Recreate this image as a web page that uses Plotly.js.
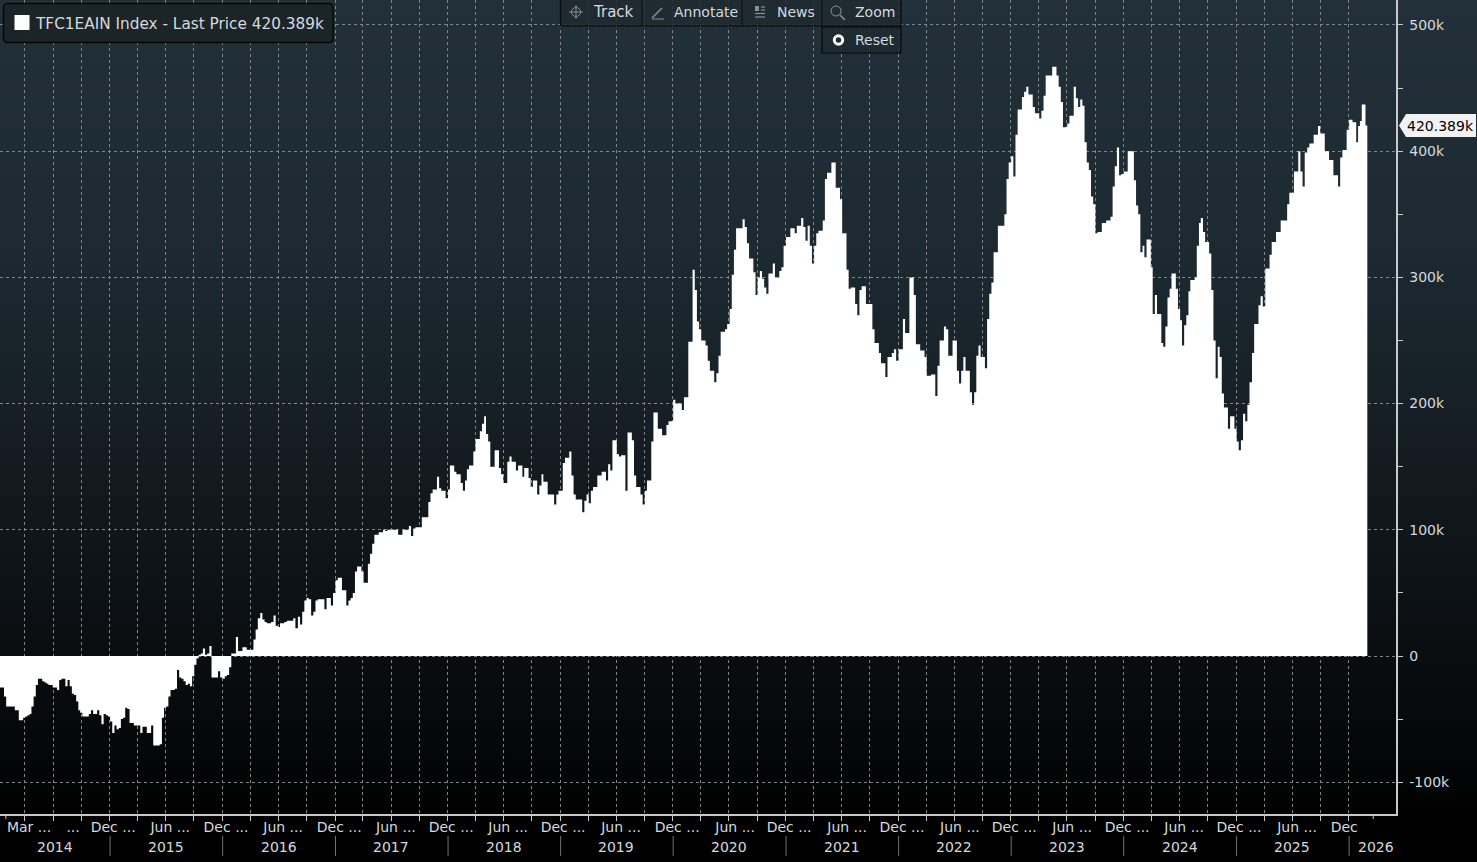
<!DOCTYPE html>
<html><head><meta charset="utf-8">
<script src="https://cdn.plot.ly/plotly-3.0.1.min.js"></script>
<style>
html,body{margin:0;padding:0;width:1477px;height:862px;overflow:hidden;
background:linear-gradient(180deg,#223039 0%,#1c2931 30%,#151e24 50%,#0e1418 65%,#090c0f 78%,#020303 92%,#000 95%);}
#chart{width:1477px;height:862px;}
</style></head><body><div id="chart"></div>
<script>
// Weekly closes, in thousands, one list per calendar year
const values2014=[-25,-25,-32,-40,-40,-40,-40,-43,-43,-51,-51,-49,-48,-47,-46,-40,-32,-23,-18,-18,-20,-21,-22,-23,-23,-25,-25,-27,-19,-18,-18,-24,-19,-24,-30,-31,-36,-43,-45,-48,-48,-48,-46,-43,-46,-46,-43,-47,-54,-46,-47,-48];
const values2015=[-52,-61,-55,-58,-57,-50,-49,-41,-42,-53,-53,-55,-55,-55,-61,-56,-56,-61,-61,-55,-71,-71,-71,-70,-49,-41,-40,-32,-27,-27,-26,-11,-17,-18,-20,-23,-22,-24,-16,-7,-2,1,2,6,1,2,8,-17,-17,-17,-12,-17];
const values2016=[-18,-16,-15,-9,2,2,15,4,4,7,7,5,5,5,13,21,30,34,29,27,26,26,27,32,24,23,26,26,27,28,28,28,30,22,31,25,35,44,46,45,32,35,44,45,45,45,37,46,46,40,50];
const values2017=[60,62,62,52,52,40,44,46,50,67,71,71,67,58,58,73,81,89,96,96,98,98,100,99,100,100,100,100,100,96,96,100,100,100,103,95,101,102,102,102,110,110,110,122,129,132,132,142,133,131,131,125];
const values2018=[132,151,151,146,144,144,137,131,139,148,151,151,162,172,172,178,184,190,176,170,150,150,163,163,149,144,137,137,154,158,154,154,147,151,151,142,149,149,141,134,139,139,128,135,144,138,138,128,128,128,120,128,131];
const values2019=[131,153,157,157,162,143,128,124,124,124,114,123,128,121,131,134,134,143,143,146,146,139,152,147,171,171,160,158,159,159,131,177,177,171,143,134,134,128,120,131,139,139,170,193,193,180,180,175,175,183,186,186];
const values2020=[203,200,200,200,195,205,205,249,249,306,290,265,259,250,250,246,234,226,226,217,224,238,257,257,259,263,275,302,322,339,339,339,346,340,327,315,315,304,286,300,305,299,292,287,303,303,311,300,300,305,308,325];
const values2021=[332,332,339,339,335,341,341,347,340,329,341,325,311,325,335,337,337,345,378,383,383,391,391,371,371,362,335,335,306,291,292,292,279,270,290,293,293,279,279,279,259,248,248,240,232,232,221,237,237,240,243,234];
const values2022=[243,243,267,256,256,300,300,286,247,247,242,242,237,222,222,223,223,206,230,250,250,261,259,238,238,250,250,226,216,226,237,226,226,209,199,209,238,246,237,237,228,267,287,296,320,320,341,341,341,350,378,391];
const values2023=[396,380,413,433,433,443,447,451,445,445,435,430,430,426,432,444,460,460,460,467,467,460,451,439,419,419,422,428,428,451,442,435,441,436,407,391,385,364,358,335,336,336,343,343,345,345,348,372,388,403,381,382];
const values2024=[384,384,400,400,400,377,357,350,320,325,316,330,330,308,271,286,271,271,248,245,261,284,291,303,303,291,275,266,246,262,270,289,298,298,300,325,343,347,336,328,328,319,290,250,220,245,237,208,197,197,180,190,190,180];
const values2025=[170,163,171,192,186,199,217,240,263,263,278,285,277,307,307,318,328,328,336,336,345,345,345,358,367,367,384,384,400,384,372,399,403,406,406,413,413,420,414,414,400,400,393,393,381,381,372,395,401,401,417];
const values2026=[425,425,423,423,407,420,424,437,437,420.389];
const yearSeries=[values2014,values2015,values2016,values2017,values2018,values2019,values2020,values2021,values2022,values2023,values2024,values2025,values2026];
const yearEdges=['2014-01-09','2015-01-01','2016-01-01','2017-01-01','2018-01-01','2019-01-01','2020-01-01','2021-01-01','2022-01-01','2023-01-01','2024-01-01','2025-01-01','2026-01-01','2026-03-01'];

const yTickVals=[-100000,0,100000,200000,300000,400000,500000];
const yTickText=['-100k','0','100k','200k','300k','400k','500k'];
const monthLabelDates=['2014-04-13','2014-09-03','2015-01-11','2015-07-15','2016-01-12','2016-07-15','2017-01-13','2017-07-16','2018-01-11','2018-07-15','2019-01-09','2019-07-16','2020-01-14','2020-07-20','2021-01-11','2021-07-18','2022-01-12','2022-07-19','2023-01-11','2023-07-18','2024-01-12','2024-07-15','2025-01-09','2025-07-16','2025-12-16'];
const monthLabels=['Mar ...','...','Dec ...','Jun ...','Dec ...','Jun ...','Dec ...','Jun ...','Dec ...','Jun ...','Dec ...','Jun ...','Dec ...','Jun ...','Dec ...','Jun ...','Dec ...','Jun ...','Dec ...','Jun ...','Dec ...','Jun ...','Dec ...','Jun ...','Dec'];
const yearLabels=['2014','2015','2016','2017','2018','2019','2020','2021','2022','2023','2024','2025','2026'];
const yearLabelDates=['2014-07-06','2015-07-01','2016-07-01','2017-07-01','2018-06-30','2019-07-01','2020-07-01','2021-07-01','2022-07-01','2023-06-30','2024-07-01','2025-07-01','2026-03-28'];
const quarterEnds=['03-31','06-30','09-30','12-31'];
const gridYears=[2014,2015,2016,2017,2018,2019,2020,2021,2022,2023,2024,2025];
const extraTickDates=['2014-01-28','2026-03-20'];
const titleText='TFC1EAIN Index - Last Price 420.389k';
const lastText='420.389k';
const lastValue=420389;
const toolbarLabels=['Track','Annotate','News','Zoom','Reset'];

const FONT='"DejaVu Sans"', TXT='#d4dade', GRID='#80858a';
const PW=1396, PH=814;
const px=v=>v/PW, py=v=>1-v/PH;

const xs=[],ys=[];
yearSeries.forEach((arr,k)=>{
  const a=Date.parse(yearEdges[k]),b=Date.parse(yearEdges[k+1]);
  arr.forEach((v,i)=>{xs.push(new Date(a+i*(b-a)/arr.length).toISOString().slice(0,10));ys.push(v*1000);});
});
xs.push(yearEdges[yearEdges.length-1]);ys.push(lastValue);

const gridDates=[];
gridYears.forEach(y=>quarterEnds.forEach(q=>gridDates.push(y+'-'+q)));

function rr(x0,y0,x1,y1,r){
  const X=px,Y=py;
  return `M ${X(x0+r)} ${Y(y0)} L ${X(x1-r)} ${Y(y0)} Q ${X(x1)} ${Y(y0)} ${X(x1)} ${Y(y0+r)} L ${X(x1)} ${Y(y1-r)} Q ${X(x1)} ${Y(y1)} ${X(x1-r)} ${Y(y1)} L ${X(x0+r)} ${Y(y1)} Q ${X(x0)} ${Y(y1)} ${X(x0)} ${Y(y1-r)} L ${X(x0)} ${Y(y0+r)} Q ${X(x0)} ${Y(y0)} ${X(x0+r)} ${Y(y0)} Z`;
}
const box=(x0,y0,x1,y1,fill,line,w)=>({type:'rect',xref:'paper',yref:'paper',x0:px(x0),x1:px(x1),y0:py(y0),y1:py(y1),fillcolor:fill||'rgba(0,0,0,0)',line:{color:line||'rgba(0,0,0,0)',width:w||0},layer:'above'});
const seg=(x0,y0,x1,y1,c,w)=>({type:'line',xref:'paper',yref:'paper',x0:px(x0),x1:px(x1),y0:py(y0),y1:py(y1),line:{color:c,width:w||1},layer:'above'});
const ring=(cx,cy,r,c,w,fill)=>({type:'circle',xref:'paper',yref:'paper',x0:px(cx-r),x1:px(cx+r),y0:py(cy+r),y1:py(cy-r),line:{color:c,width:w},fillcolor:fill||'rgba(0,0,0,0)',layer:'above'});
const label=(x,y,t,c,anchor,size)=>({xref:'paper',yref:'paper',x:px(x),y:py(y),text:t,showarrow:false,xanchor:anchor||'left',yanchor:'middle',font:{family:FONT,size:size||14,color:c||TXT}});

const ICON='#8a9297', TB='rgba(32,42,48,0.86)';
const shapes=[
  {type:'path',xref:'paper',yref:'paper',path:rr(3.5,3.5,333,42.5,4),fillcolor:'rgba(28,35,39,0.96)',line:{color:'#05080a',width:1.5},layer:'above'},
  box(14.5,15,29.5,30,'#ffffff'),
  box(560.5,-1,901,26,TB,'#07090b',1.2),
  box(822,27,901,53,TB,'#07090b',1.2),
  seg(642,0,642,25,'#12181c',1.5),seg(742,0,742,25,'#12181c',1.5),seg(822,0,822,25,'#12181c',1.5),
  ring(576,12,4.5,ICON,1),seg(569,12,583,12,ICON,1),seg(576,5,576,19,ICON,1),
  seg(652,18,662,8,ICON,1.5),seg(652,19,664,19,ICON,1),
  box(755,6,759,11,ICON),seg(761,7,765,7,ICON,1.2),seg(761,10,765,10,ICON,1.2),seg(755,13.5,765,13.5,ICON,1.2),seg(755,17,765,17,ICON,1.2),
  ring(836,11,5,ICON,1),seg(840,15,845,20,ICON,1.6),
  ring(838.5,40,4.2,'#ffffff',3),
  {type:'path',xref:'paper',yref:'paper',path:`M ${px(1399)} ${py(125.5)} L ${px(1406)} ${py(114)} L ${px(1476)} ${py(114)} L ${px(1476)} ${py(137)} L ${px(1406)} ${py(137)} Z`,fillcolor:'#f2f2f2',line:{width:0},layer:'above'}
];
yearEdges.slice(1,13).forEach(d=>shapes.push({type:'line',xref:'x',yref:'paper',x0:d,x1:d,y0:py(836),y1:py(856),line:{color:'#6d7276',width:1},layer:'above'}));
extraTickDates.forEach(d=>shapes.push({type:'line',xref:'x',yref:'paper',x0:d,x1:d,y0:py(814),y1:py(819),line:{color:'#c9c9c9',width:1},layer:'above'}));

const annotations=[
  label(32.5,24,titleText,TXT,'left',15.3),
  label(590.5,12,toolbarLabels[0],TXT,'left',15),label(672,12,toolbarLabels[1]),label(775,12,toolbarLabels[2]),label(852.5,12,toolbarLabels[3]),label(852.5,40,toolbarLabels[4]),
  label(1405,125.5,lastText,'#000000')
];
yearLabels.forEach((t,i)=>annotations.push({xref:'x',yref:'paper',x:yearLabelDates[i],y:py(847),text:t,showarrow:false,xanchor:'center',yanchor:'middle',font:{family:FONT,size:14,color:TXT}}));

const traces=[
 {type:'scatter',mode:'lines',x:xs,y:ys,name:titleText,fill:'tozeroy',fillcolor:'#ffffff',line:{shape:'hv',color:'#ffffff',width:0},hoverinfo:'skip',showlegend:false},
 {type:'scatter',mode:'markers',x:yTickVals.map(()=>1403),y:yTickVals,xaxis:'x2',yaxis:'y',marker:{symbol:'triangle-right',size:11,color:'#e2e2e2'},cliponaxis:false,hoverinfo:'skip',showlegend:false}
];
const layout={
 width:1477,height:862,margin:{l:0,r:81,t:0,b:48,pad:0},
 paper_bgcolor:'rgba(0,0,0,0)',plot_bgcolor:'rgba(0,0,0,0)',showlegend:false,
 font:{family:FONT,size:14,color:TXT},
 xaxis:{type:'date',range:['2014-01-09','2026-06-02'],showgrid:false,zeroline:false,showline:true,linecolor:'#c9c9c9',linewidth:1.5,
   tickmode:'array',tickvals:monthLabelDates,ticktext:monthLabels,ticks:'',ticklabelstandoff:0,tickangle:0,tickfont:{family:FONT,size:14,color:TXT},
   minor:{tickmode:'array',tickvals:gridDates,ticks:'outside',ticklen:5,tickcolor:'#c9c9c9',tickwidth:1,showgrid:true,gridcolor:GRID,griddash:'3px,3px',gridwidth:1}},
 xaxis2:{overlaying:'x',range:[0,1396],visible:false,fixedrange:true},
 yaxis:{side:'right',range:[-125200,519800],tickmode:'array',tickvals:yTickVals,ticktext:yTickText,ticks:'',ticklabelstandoff:9,
   showgrid:true,gridcolor:GRID,griddash:'3px,3px',gridwidth:1,zeroline:false,showline:true,linecolor:'#c9c9c9',linewidth:1.5,
   tickfont:{family:FONT,size:14,color:TXT},
   minor:{dtick:50000,ticks:'outside',ticklen:5,tickcolor:'#c9c9c9',tickwidth:1,showgrid:false}},
 shapes,annotations
};
Plotly.newPlot('chart',traces,layout,{displayModeBar:false,staticPlot:true});
</script></body></html>
